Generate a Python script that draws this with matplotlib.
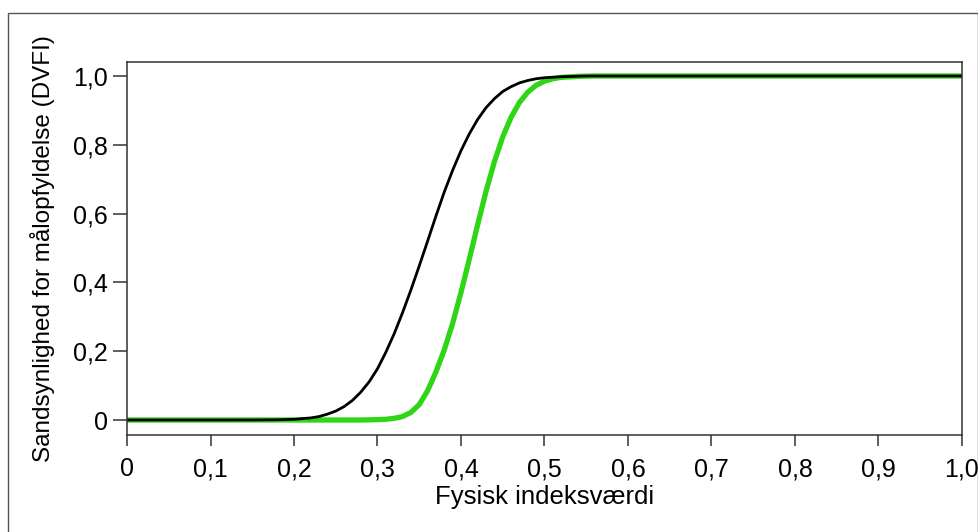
import matplotlib
matplotlib.use("Agg")
import matplotlib.pyplot as plt
from matplotlib.patches import Rectangle
from matplotlib.ticker import FuncFormatter

plt.rcParams["font.family"] = ["Liberation Sans", "DejaVu Sans"]

# values
x_black = [0.00, 0.10, 0.15, 0.18, 0.20, 0.21, 0.22, 0.23, 0.24, 0.25, 0.26, 0.27, 0.28,
           0.29, 0.30, 0.31, 0.32, 0.33, 0.34, 0.35, 0.36, 0.37, 0.38, 0.39, 0.40, 0.41,
           0.42, 0.43, 0.44, 0.45, 0.46, 0.47, 0.48, 0.49, 0.50, 0.52, 0.55, 0.60, 1.00]
y_black = [0.000, 0.000, 0.0001, 0.0006, 0.002, 0.004, 0.006, 0.010, 0.017, 0.026, 0.039,
           0.057, 0.081, 0.111, 0.149, 0.197, 0.251, 0.312, 0.378, 0.448, 0.520, 0.593,
           0.663, 0.726, 0.783, 0.832, 0.874, 0.908, 0.934, 0.955, 0.969, 0.980, 0.987,
           0.992, 0.995, 0.998, 1.000, 1.000, 1.000]

x_green = [0.00, 0.20, 0.28, 0.30, 0.31, 0.32, 0.33, 0.34, 0.35, 0.36, 0.37, 0.38, 0.39,
           0.40, 0.41, 0.42, 0.43, 0.44, 0.45, 0.46, 0.47, 0.48, 0.49, 0.50, 0.51, 0.52,
           0.54, 0.56, 0.60, 1.00]
y_green = [0.000, 0.000, 0.000, 0.001, 0.002, 0.005, 0.010, 0.022, 0.045, 0.085, 0.140,
           0.204, 0.281, 0.371, 0.468, 0.568, 0.665, 0.751, 0.823, 0.880, 0.923, 0.953,
           0.973, 0.985, 0.992, 0.996, 0.999, 1.000, 1.000, 1.000]

x_ticks = [0.0, 0.1, 0.2, 0.3, 0.4, 0.5, 0.6, 0.7, 0.8, 0.9, 1.0]
y_ticks = [0.0, 0.2, 0.4, 0.6, 0.8, 1.0]


def comma(v, pos):
    if abs(v) < 1e-9:
        return "0"
    return f"{v:.1f}".replace(".", ",")


fig = plt.figure(figsize=(9.79, 5.32), dpi=100)
fig.patches.append(Rectangle((8 / 979, -0.05), 970 / 979, 1.05 - 13 / 532,
                             transform=fig.transFigure, fill=False,
                             edgecolor="#555555", linewidth=1.0))

ax = fig.add_axes([127 / 979, 1 - 435 / 532, 835 / 979, 373 / 532])
ax.plot(x_green, y_green, color="#2ed616", linewidth=3.8, solid_capstyle="butt")
ax.plot(x_black, y_black, color="black", linewidth=2.0)

ax.set_xlim(0, 1)
ax.set_ylim(-0.0436, 1.0407)
ax.set_xticks(x_ticks)
ax.set_yticks(y_ticks)
ax.xaxis.set_major_formatter(FuncFormatter(comma))
ax.yaxis.set_major_formatter(FuncFormatter(comma))
ax.tick_params(axis="x", length=8, width=1.1, pad=8, labelsize=18, color="#333333")
ax.tick_params(axis="y", length=10, width=1.1, pad=4, labelsize=18, color="#333333")
for s in ax.spines.values():
    s.set_linewidth(1.1)
    s.set_color("#333333")

ax.set_xlabel("Fysisk indeksværdi", fontsize=18.5, labelpad=3)
ax.set_ylabel("Sandsynlighed for målopfyldelse (DVFI)", fontsize=17.5, labelpad=13)

fig.savefig("out.png", dpi=100)
